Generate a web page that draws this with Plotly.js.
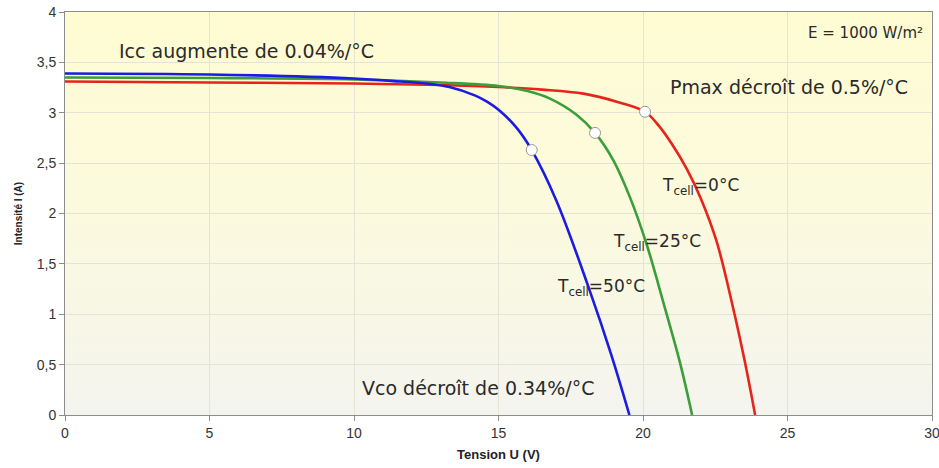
<!DOCTYPE html>
<html>
<head>
<meta charset="utf-8">
<script src="https://cdn.plot.ly/plotly-3.0.1.min.js"></script>
<style>html,body{margin:0;padding:0;background:#fff;}#chart{width:939px;height:468px;}</style>
</head>
<body>
<div id="chart"></div>
<script>
// Tcell = 50°C (blue)
const u50 = [0, 5, 10, 11.6, 12.5, 13.3, 14.2, 14.6, 15.0, 15.6, 16.15, 17.0, 18.15, 18.9, 19.53];
const i50 = [3.39, 3.38, 3.34, 3.31, 3.29, 3.255, 3.17, 3.11, 3.03, 2.86, 2.63, 2.13, 1.24, 0.60, 0];
// Tcell = 25°C (green)
const u25 = [0, 5, 10, 13, 15, 16, 16.78, 17.7, 18.34, 18.97, 19.55, 20.13, 20.76, 21.28, 21.7];
const i25 = [3.35, 3.345, 3.33, 3.30, 3.265, 3.215, 3.14, 2.98, 2.80, 2.53, 2.16, 1.69, 1.06, 0.52, 0];
// Tcell = 0°C (red)
const u0 = [0, 5, 10, 13, 15, 16.5, 17.94, 19.09, 20.07, 20.55, 21.0, 21.5, 22.0, 22.55, 23.12, 23.53, 23.88];
const i0 = [3.31, 3.30, 3.29, 3.275, 3.255, 3.23, 3.19, 3.11, 3.01, 2.87, 2.69, 2.45, 2.15, 1.72, 1.06, 0.52, 0];
// Maximum power points
const pmaxU = [16.15, 18.34, 20.07];
const pmaxI = [2.63, 2.80, 3.01];

const xTicks = [0, 5, 10, 15, 20, 25, 30];
const yTicks = [0, 0.5, 1, 1.5, 2, 2.5, 3, 3.5, 4];

const lineStyle = (c) => ({color: c, width: 2.6, shape: 'spline', smoothing: 1});
const traces = [
  {x: u0, y: i0, mode: 'lines', line: lineStyle('#e8231c'), hoverinfo: 'skip'},
  {x: u25, y: i25, mode: 'lines', line: lineStyle('#3b9e3b'), hoverinfo: 'skip'},
  {x: u50, y: i50, mode: 'lines', line: lineStyle('#1c1ce0'), hoverinfo: 'skip'},
  {x: pmaxU, y: pmaxI, mode: 'markers', marker: {size: 11, color: '#ffffff', line: {color: '#9a9a9a', width: 1}}, hoverinfo: 'skip'}
];

const grad = 'data:image/svg+xml;utf8,' + encodeURIComponent(
  '<svg xmlns="http://www.w3.org/2000/svg" width="100" height="100" preserveAspectRatio="none">' +
  '<defs><linearGradient id="g" x1="0" y1="0" x2="0" y2="1">' +
  '<stop offset="0" stop-color="#fffcd2"/><stop offset="0.5" stop-color="#fbfade"/><stop offset="1" stop-color="#f4f4ef"/>' +
  '</linearGradient></defs><rect width="100" height="100" fill="url(#g)"/></svg>');

const annFont = {family: 'DejaVu Sans, Verdana, sans-serif', size: 19, color: '#2a2a2a'};
const tFont = {family: 'DejaVu Sans, Verdana, sans-serif', size: 17, color: '#2a2a2a'};
const ann = (x, y, text, f) => ({x: x, y: y, xref: 'x', yref: 'y', text: text, showarrow: false, xanchor: 'left', yanchor: 'middle', font: f || annFont});

const layout = {
  width: 939, height: 468,
  margin: {l: 65, r: 7, t: 12, b: 53},
  paper_bgcolor: '#ffffff',
  plot_bgcolor: 'rgba(0,0,0,0)',
  showlegend: false,
  separators: ', ',
  images: [{source: grad, xref: 'paper', yref: 'paper', x: 0, y: 1, sizex: 1, sizey: 1, sizing: 'stretch', layer: 'below', xanchor: 'left', yanchor: 'top'}],
  xaxis: {
    range: [0, 30], tickvals: xTicks, ticktext: xTicks.map(String),
    showgrid: true, gridcolor: '#e4e4d6', gridwidth: 1,
    showline: true, linecolor: '#8c8c8c', linewidth: 1, mirror: true,
    ticks: 'outside', ticklen: 5, tickcolor: '#8c8c8c', zeroline: false,
    ticklabeloverflow: 'allow',
    tickfont: {family: 'Liberation Sans, Arial, sans-serif', size: 14, color: '#333'},
    title: {text: '<b>Tension U (V)</b>', font: {family: 'Liberation Sans, Arial, sans-serif', size: 13, color: '#222'}, standoff: 10}
  },
  yaxis: {
    range: [0, 4], tickvals: yTicks, ticktext: yTicks.map(v => String(v).replace('.', ',')),
    showgrid: true, gridcolor: '#e4e4d6', gridwidth: 1,
    showline: true, linecolor: '#8c8c8c', linewidth: 1, mirror: true,
    ticks: 'outside', ticklen: 5, tickcolor: '#8c8c8c', zeroline: false,
    tickfont: {family: 'Liberation Sans, Arial, sans-serif', size: 14, color: '#333'},
    title: {text: '<b>Intensité I (A)</b>', font: {family: 'Liberation Sans, Arial, sans-serif', size: 10, color: '#222'}, standoff: 12}
  },
  annotations: [
    ann(1.8, 3.61, 'Icc augmente de 0.04%/°C'),
    ann(20.87, 3.26, 'Pmax décroît de 0.5%/°C'),
    ann(20.6, 2.27, 'T<sub>cell</sub>=0°C', tFont),
    ann(18.9, 1.71, 'T<sub>cell</sub>=25°C', tFont),
    ann(16.95, 1.27, 'T<sub>cell</sub>=50°C', tFont),
    ann(10.2, 0.27, 'Vco décroît de 0.34%/°C'),
    {x: 0.992, y: 0.975, xref: 'paper', yref: 'paper', text: 'E = 1000 W/m²', showarrow: false, xanchor: 'right', yanchor: 'top', font: {family: 'DejaVu Sans, Verdana, sans-serif', size: 15, color: '#2a2a2a'}}
  ]
};

Plotly.newPlot('chart', traces, layout, {staticPlot: true, displayModeBar: false});
</script>
</body>
</html>
